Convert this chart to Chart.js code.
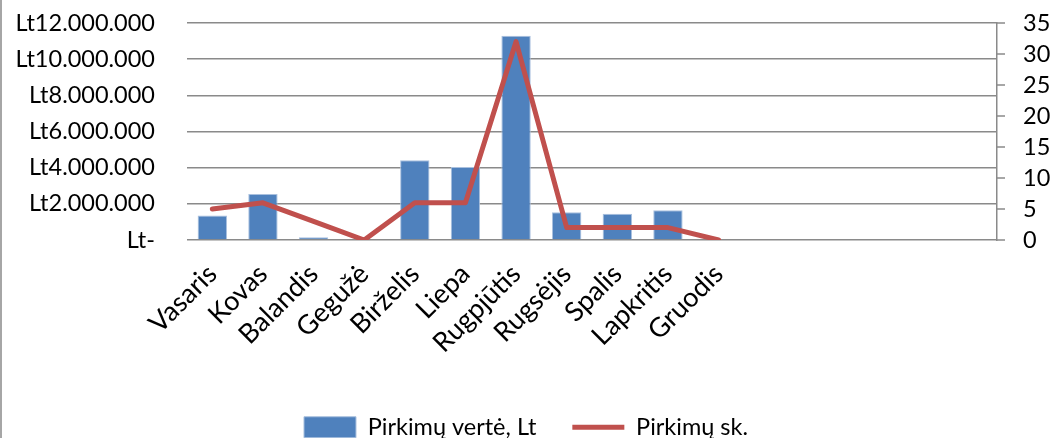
<!DOCTYPE html>
<html>
<head>
<meta charset="utf-8">
<script src="https://cdn.jsdelivr.net/npm/chart.js@4/dist/chart.umd.min.js"></script>
<style>
  html, body { margin: 0; padding: 0; background: #fff; }
  #wrap { width: 1052px; height: 438px; position: relative; }
</style>
</head>
<body>
<div id="wrap"><canvas id="chart"></canvas></div>
<script>
// 16 kategorijų, paskutinės 5 tuščios (kaip originaliame Excel grafike)
const menesiai = ['Vasaris', 'Kovas', 'Balandis', 'Gegužė', 'Birželis', 'Liepa',
    'Rugpjūtis', 'Rugsėjis', 'Spalis', 'Lapkritis', 'Gruodis', '', '', '', '', ''];

const pirkimuVerte = [1360000, 2540000, 155000, 0, 4410000, 4040000,
    11290000, 1540000, 1450000, 1640000, 0, null, null, null, null, null];

const pirkimuSk = [5, 6, 3, 0, 6, 6, 32, 2, 2, 2, 0, null, null, null, null, null];

const kairesAsis = { min: 0, max: 12000000, step: 2000000 };
const desinesAsis = { min: 0, max: 35, step: 5 };

const FONT = 'Lato, "Open Sans", sans-serif';
const FSIZE = 23.5;
const GRID = '#8a8a8a';

function formatLt(value) {
    if (value === 0) return 'Lt-';
    return 'Lt' + String(value).replace(/\B(?=(\d{3})+(?!\d))/g, '.');
}

const framePlugin = {
    id: 'frame',
    afterLayout(chart) {
        // legendą nuleisti arčiau apačios
        if (chart.legend) {
            chart.legend.top += 11;
            chart.legend.bottom += 11;
        }
    },
    beforeDraw(chart) {
        const ctx = chart.ctx;
        ctx.save();
        ctx.fillStyle = '#ffffff';
        ctx.fillRect(0, 0, chart.width, chart.height);
        ctx.fillStyle = '#a6a6a6';
        ctx.fillRect(0, 0, 2, chart.height);
        ctx.restore();
    },
    afterDraw(chart) {
        // trumpos padalų žymės dešinėje ašyje
        const s = chart.scales.y1;
        const ctx = chart.ctx;
        ctx.save();
        ctx.strokeStyle = GRID;
        ctx.lineWidth = 1.5;
        s.ticks.forEach(t => {
            const y = s.getPixelForValue(t.value);
            ctx.beginPath();
            ctx.moveTo(s.left, y);
            ctx.lineTo(s.left + 8, y);
            ctx.stroke();
        });
        ctx.restore();
    }
};

const ctx = document.getElementById('chart').getContext('2d');

new Chart(ctx, {
    type: 'bar',
    data: {
        labels: menesiai,
        datasets: [
            {
                type: 'line',
                label: 'Pirkimų sk.',
                data: pirkimuSk,
                yAxisID: 'y1',
                borderColor: '#C0504D',
                backgroundColor: '#C0504D',
                borderWidth: 5,
                borderCapStyle: 'round',
                borderJoinStyle: 'round',
                pointRadius: 0,
                pointStyle: 'line',
                tension: 0,
                order: 0
            },
            {
                label: 'Pirkimų vertė, Lt',
                data: pirkimuVerte,
                yAxisID: 'y',
                backgroundColor: '#4F81BD',
                borderColor: '#a9c0de',
                borderWidth: 1,
                categoryPercentage: 1,
                barPercentage: 0.58,
                pointStyle: 'rect',
                order: 1
            }
        ]
    },
    options: {
        responsive: true,
        maintainAspectRatio: false,
        animation: false,
        layout: { padding: { top: 23, left: 0, right: 0, bottom: 0 } },
        scales: {
            x: {
                grid: { display: false },
                border: { display: false },
                ticks: {
                    color: '#000',
                    font: { family: FONT, size: 27 },
                    minRotation: 45,
                    maxRotation: 45,
                    autoSkip: false,
                    padding: 10
                },
                afterFit: scale => { scale.height = 128.5; }
            },
            y: {
                position: 'left',
                min: kairesAsis.min,
                max: kairesAsis.max,
                grid: { color: GRID, lineWidth: 1.5, drawTicks: true, tickLength: 32, tickColor: 'transparent' },
                border: { display: false },
                ticks: {
                    stepSize: kairesAsis.step,
                    color: '#000',
                    font: { family: FONT, size: FSIZE },
                    padding: 0,
                    callback: value => formatLt(value)
                },
                afterFit: scale => { scale.width = 187; }
            },
            y1: {
                position: 'right',
                min: desinesAsis.min,
                max: desinesAsis.max,
                grid: { drawOnChartArea: false, tickLength: 26, tickColor: 'transparent' },
                border: { display: true, color: GRID, width: 1.5 },
                ticks: {
                    stepSize: desinesAsis.step,
                    autoSkip: false,
                    color: '#000',
                    font: { family: FONT, size: FSIZE },
                    padding: 0
                },
                afterFit: scale => { scale.width = 55; }
            }
        },
        plugins: {
            legend: {
                position: 'bottom',
                reverse: true,
                labels: {
                    usePointStyle: true,
                    pointStyleWidth: 52,
                    boxHeight: 21,
                    padding: 36,
                    color: '#000',
                    font: { family: FONT, size: FSIZE }
                }
            },
            tooltip: { enabled: false }
        }
    },
    plugins: [framePlugin]
});
</script>
</body>
</html>
